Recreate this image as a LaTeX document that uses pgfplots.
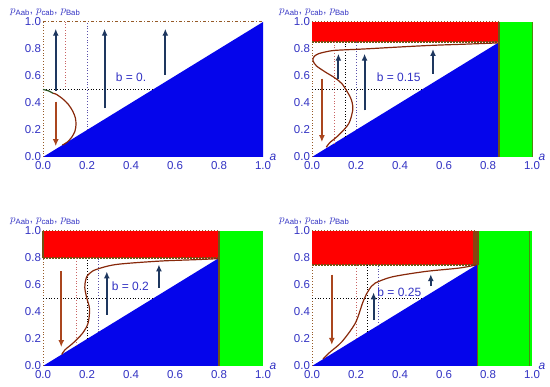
\documentclass[border=0pt]{standalone}
\usepackage{pgfplots}
\pgfplotsset{compat=1.18}
\usepackage{fontspec}
\setmainfont{Liberation Sans}
\usetikzlibrary{arrows.meta}
\definecolor{tickblue}{RGB}{50,50,195}
\definecolor{curvebrown}{RGB}{135,40,10}
\definecolor{navyarrow}{RGB}{30,55,95}
\definecolor{brownarrow}{RGB}{170,70,30}
\definecolor{fillblue}{RGB}{5,5,235}
\definecolor{edgeolive}{RGB}{110,85,20}
\definecolor{dotpink}{RGB}{200,100,100}
\definecolor{dotpurple}{RGB}{90,80,170}
\definecolor{dotbrown}{RGB}{150,90,40}
\pgfplotsset{
  panel/.style={
    scale only axis, width=220pt, height=135pt,
    xmin=0, xmax=1, ymin=0, ymax=1, clip=false,
    axis line style={draw=none}, major tick length=0pt,
    xtick={0,0.2,0.4,0.6,0.8,1}, ytick={0,0.2,0.4,0.6,0.8,1},
    tick label style={font=\fontsize{11.5}{12}\selectfont, text=tickblue},
    xticklabel style={yshift=-0.5pt},
    yticklabel style={xshift=1.5pt},
    /pgf/number format/.cd, fixed, fixed zerofill, precision=1, assume math mode=true,
  },
  uparrow/.style={navyarrow, line width=2pt, -{Latex[length=7pt,width=6pt]}},
  downarrow/.style={brownarrow, line width=2pt, -{Latex[length=7pt,width=6pt]}},
  crv/.style={curvebrown, line width=1.2pt, smooth},
  dotl/.style={line width=0.8pt, dotted},
  rededge/.style={edgeolive, line width=2pt, dash pattern=on 2pt off 1pt},
}
\newcommand{\paneltext}{%
  \node[anchor=south west, text=tickblue, font=\fontsize{11}{12}\selectfont] at (axis description cs:-0.165,1.02) {$p$\textsubscript{Aab}, $p$\textsubscript{cab}, $p$\textsubscript{Bab}};
  \node[text=tickblue, font=\fontsize{12}{13}\selectfont\itshape] at (axis description cs:1.045,0.0) {a};
}
\begin{document}
\begin{tikzpicture}
\useasboundingbox (0,0) rectangle (550pt,387pt);
% ---------------- Panel 1: b = 0
\begin{axis}[panel, at={(43pt,230pt)}, anchor=south west]
\addplot[draw=none, fill=fillblue] coordinates {(0,0) (1,1) (1,0)} -- cycle;
\addplot[dotl, dotbrown] coordinates {(0,0) (0,1)};
\addplot[dotl, dotpink] coordinates {(0.1,0.5) (0.1,1)};
\addplot[dotl, dotpurple] coordinates {(0.2,0.2) (0.2,1)};
\addplot[dotl, black] coordinates {(0,0.5) (0.5,0.5)};
\addplot[dotbrown, line width=1pt, dash dot] coordinates {(0,1) (1,1)};
\addplot[crv] coordinates {(0.045,0.472) (0.06,0.465) (0.09,0.43) (0.115,0.39) (0.135,0.34) (0.147,0.29) (0.15,0.24) (0.145,0.19) (0.13,0.145) (0.11,0.11) (0.088,0.088)};
\addplot[crv, color={rgb,255:red,40;green,80;blue,30}] coordinates {(0,0.5) (0.025,0.49) (0.045,0.472)};
\addplot[uparrow] coordinates {(0.058,0.49) (0.058,0.95)};
\addplot[uparrow] coordinates {(0.28,0.36) (0.28,0.95)};
\addplot[uparrow] coordinates {(0.556,0.61) (0.556,0.95)};
\addplot[downarrow] coordinates {(0.058,0.41) (0.058,0.08)};
\node[text=tickblue, font=\fontsize{12}{13}\selectfont] at (axis cs:0.40,0.59) {b = 0.};
\paneltext
\end{axis}
% ---------------- Panel 2: b = 0.15
\begin{axis}[panel, at={(312pt,230pt)}, anchor=south west]
\addplot[draw=none, fill=green] coordinates {(0.85,0) (1,0) (1,1) (0.85,1)} -- cycle;
\addplot[draw=none, fill=red] coordinates {(0,0.85) (0.85,0.85) (0.85,1) (0,1)} -- cycle;
\addplot[draw=none, fill=fillblue] coordinates {(0,0) (0.85,0.85) (0.85,0)} -- cycle;
\addplot[edgeolive, line width=1.8pt] coordinates {(0.85,0) (0.85,1)};
\addplot[edgeolive!70!green, line width=0.8pt] coordinates {(1,0) (1,1)};
\addplot[rededge] coordinates {(0,0.85) (0.85,0.85)};
\addplot[dotbrown, line width=1pt, dotted] coordinates {(0,1) (0.85,1)};
\addplot[dotl, dotbrown] coordinates {(0,0) (0,0.85)};
\addplot[dotl, dotpink] coordinates {(0.1,0.1) (0.1,0.85)};
\addplot[dotl, black] coordinates {(0.15,0.15) (0.15,0.85)};
\addplot[dotl, dotpurple] coordinates {(0.2,0.2) (0.2,0.85)};
\addplot[dotl, black] coordinates {(0,0.5) (0.5,0.5)};
\addplot[crv] coordinates {(0.065,0.072) (0.08,0.105) (0.12,0.16) (0.167,0.247) (0.185,0.346) (0.183,0.40) (0.172,0.45) (0.136,0.543) (0.1,0.59) (0.06,0.63) (0.02,0.675) (0.004,0.715) (0.01,0.745) (0.03,0.765) (0.06,0.778) (0.106,0.79) (0.235,0.80) (0.4,0.815) (0.545,0.827) (0.7,0.836) (0.845,0.845)};
\addplot[uparrow] coordinates {(0.12,0.58) (0.12,0.765)};
\addplot[uparrow] coordinates {(0.239,0.346) (0.239,0.765)};
\addplot[uparrow] coordinates {(0.55,0.617) (0.55,0.80)};
\addplot[downarrow] coordinates {(0.045,0.58) (0.045,0.11)};
\node[text=tickblue, font=\fontsize{12}{13}\selectfont] at (axis cs:0.394,0.59) {b = 0.15};
\paneltext
\end{axis}
% ---------------- Panel 3: b = 0.2
\begin{axis}[panel, at={(43pt,21pt)}, anchor=south west]
\addplot[draw=none, fill=green] coordinates {(0.8,0) (1,0) (1,1) (0.8,1)} -- cycle;
\addplot[draw=none, fill=red] coordinates {(0,0.8) (0.8,0.8) (0.8,1) (0,1)} -- cycle;
\addplot[draw=none, fill=fillblue] coordinates {(0,0) (0.8,0.8) (0.8,0)} -- cycle;
\addplot[edgeolive, line width=1.8pt] coordinates {(0.8,0) (0.8,1)};
\addplot[rededge] coordinates {(0,0.8) (0.8,0.8)};
\addplot[dotbrown, line width=1pt, dotted] coordinates {(0,1) (0.8,1)};
\addplot[edgeolive, line width=1.5pt] coordinates {(0,0.8) (0,1)};
\addplot[dotl, dotbrown] coordinates {(0,0) (0,0.8)};
\addplot[dotl, dotpink] coordinates {(0.15,0.15) (0.15,0.8)};
\addplot[dotl, black] coordinates {(0.2,0.2) (0.2,0.8)};
\addplot[dotl, dotpurple] coordinates {(0.25,0.25) (0.25,0.8)};
\addplot[dotl, black] coordinates {(0,0.5) (0.5,0.5)};
\addplot[crv] coordinates {(0.085,0.085) (0.1,0.12) (0.136,0.169) (0.18,0.243) (0.205,0.318) (0.212,0.417) (0.205,0.47) (0.197,0.516) (0.19,0.58) (0.193,0.63) (0.2,0.665) (0.215,0.69) (0.242,0.715) (0.333,0.752) (0.53,0.777) (0.7,0.788) (0.795,0.795)};
\addplot[uparrow] coordinates {(0.29,0.38) (0.29,0.70)};
\addplot[uparrow] coordinates {(0.527,0.578) (0.527,0.752)};
\addplot[downarrow] coordinates {(0.083,0.70) (0.083,0.14)};
\node[text=tickblue, font=\fontsize{12}{13}\selectfont] at (axis cs:0.397,0.59) {b = 0.2};
\paneltext
\end{axis}
% ---------------- Panel 4: b = 0.25
\begin{axis}[panel, at={(312pt,21pt)}, anchor=south west]
\addplot[draw=none, fill=green] coordinates {(0.75,0) (1,0) (1,1) (0.75,1)} -- cycle;
\addplot[draw=none, fill=red] coordinates {(0,0.75) (0.75,0.75) (0.75,1) (0,1)} -- cycle;
\addplot[draw=none, fill=fillblue] coordinates {(0,0) (0.75,0.75) (0.75,0)} -- cycle;
\addplot[draw=none, fill=edgeolive!80!red] coordinates {(0.73,0.75) (0.757,0.75) (0.757,1) (0.73,1)} -- cycle;
\addplot[edgeolive, line width=1.4pt] coordinates {(0.752,0) (0.752,1)};
\addplot[edgeolive!70!green, line width=0.8pt] coordinates {(0.99,0) (0.99,1)};
\addplot[rededge] coordinates {(0,0.75) (0.75,0.75)};
\addplot[dotbrown, line width=1pt, dotted] coordinates {(0,1) (0.75,1)};
\addplot[dotl, dotbrown] coordinates {(0,0) (0,0.75)};
\addplot[dotl, dotpink] coordinates {(0.2,0.2) (0.2,0.75)};
\addplot[dotl, black] coordinates {(0.25,0.25) (0.25,0.75)};
\addplot[dotl, dotpurple] coordinates {(0.3,0.3) (0.3,0.75)};
\addplot[dotl, black] coordinates {(0,0.5) (0.5,0.5)};
\addplot[crv] coordinates {(0.05,0.052) (0.08,0.1) (0.136,0.18) (0.197,0.318) (0.23,0.467) (0.25,0.54) (0.27,0.59) (0.288,0.615) (0.364,0.66) (0.515,0.70) (0.667,0.725) (0.745,0.748)};
\addplot[uparrow] coordinates {(0.28,0.34) (0.28,0.545)};
\addplot[uparrow] coordinates {(0.54,0.59) (0.54,0.68)};
\addplot[downarrow] coordinates {(0.09,0.677) (0.09,0.156)};
\node[text=tickblue, font=\fontsize{12}{13}\selectfont] at (axis cs:0.397,0.545) {b = 0.25};
\paneltext
\end{axis}
\end{tikzpicture}
\end{document}
